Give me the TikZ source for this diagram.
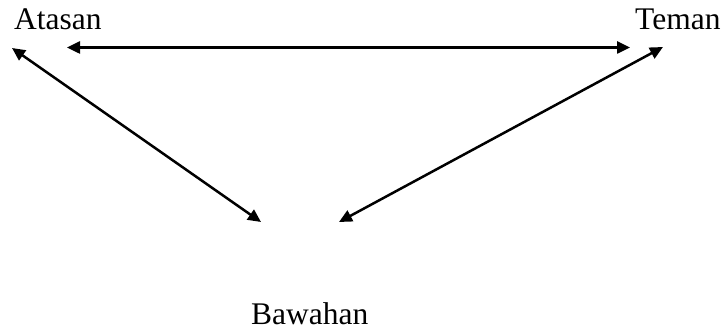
\documentclass[tikz,border=0pt]{standalone}
\usepackage{fontspec}
\setmainfont{Liberation Serif}
\usetikzlibrary{arrows.meta}
\begin{document}
\begin{tikzpicture}[x=1pt,y=-1pt,
  lbl/.style={inner sep=0pt,anchor=base west,font=\fontsize{31.5}{36}\selectfont},
  link/.style={line width=2.5pt,{Triangle[length=13pt,width=12pt]}-{Triangle[length=13pt,width=12pt]}}]
\useasboundingbox (0,0) rectangle (726,331);
\node[lbl] (atasan) at (14,30) {Atasan};
\node[lbl] (teman) at (635,29.5) {Teman};
\node[lbl] (bawahan) at (251,324) {Bawahan};
\coordinate (hl) at (67,47.5);
\coordinate (hr) at (630,47.5);
\coordinate (ltop) at (12,48);
\coordinate (lbot) at (261,222);
\coordinate (rtop) at (663,47);
\coordinate (rbot) at (339,222);
\draw[link] (hl) -- (hr);
\draw[link] (ltop) -- (lbot);
\draw[link] (rtop) -- (rbot);
\end{tikzpicture}
\end{document}
